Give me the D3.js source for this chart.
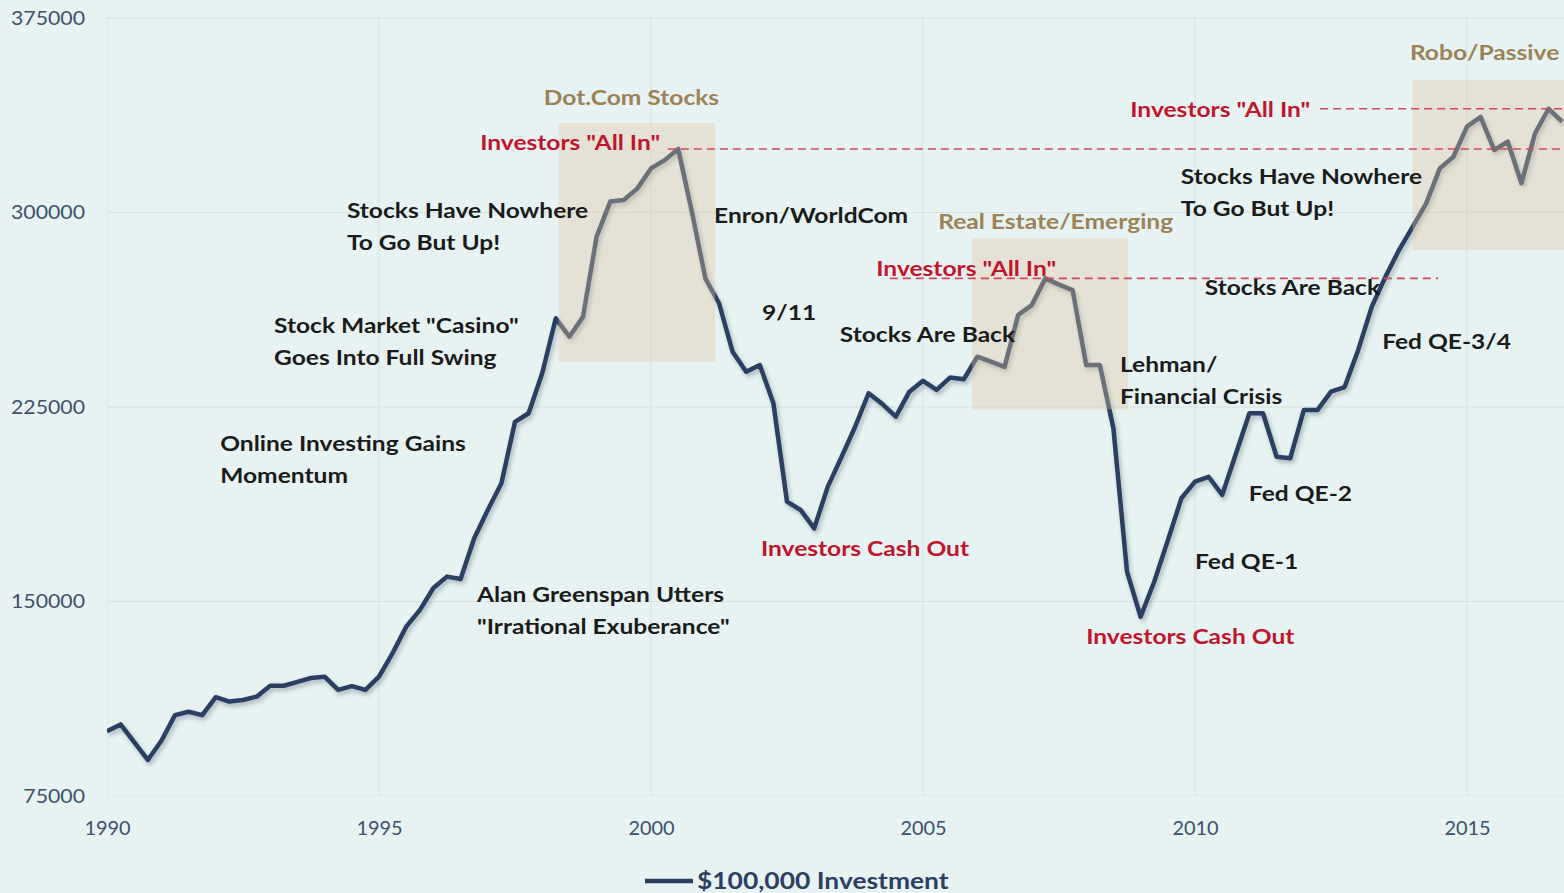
<!DOCTYPE html>
<html>
<head>
<meta charset="utf-8">
<script src="https://cdn.jsdelivr.net/npm/d3@7/dist/d3.min.js"></script>
<style>
  html, body { margin: 0; padding: 0; background: #e6f3f2; }
  svg { display: block; }
  text { font-family: Lato, "Open Sans", sans-serif; }
</style>
</head>
<body>
<svg id="chart" width="1564" height="893"></svg>
<script>
// Quarterly value of a $100,000 investment, 1990 Q1 onward
const startYear = 1990;
const investmentValues = [
  100000, 102600, 95800, 88900, 96300, 106200, 107500, 106200,
  113100, 111400, 112000, 113300, 117500, 117500, 119000, 120500,
  121000, 115900, 117400, 115900, 121000, 130100, 140300, 146700,
  155200, 159600, 158700, 174400, 185300, 195600, 219300, 222600,
  238000, 259200, 252100, 259800, 290700, 304200, 304800, 309300,
  317000, 320200, 324500, 300400, 274600, 265000, 246300, 238600,
  241200, 226400, 188500, 185300, 178200, 194300, 205600, 217300,
  230300, 226200, 221300, 230900, 235100, 231600, 236400, 235700,
  244400, 242500, 240500, 260500, 264300, 274600, 272200, 270100,
  241200, 241200, 216800, 161500, 144100, 157600, 173500, 189800,
  196200, 198100, 191100, 206900, 222600, 222600, 205800, 205200,
  223800, 223800, 230900, 232700, 247000, 263700, 275200, 285500,
  294500, 303500, 317000, 321500, 333100, 336900, 324100, 327300,
  311300, 330500, 340000, 335000
];
const seriesName = "$100,000 Investment";

const yTicks = [75000, 150000, 225000, 300000, 375000];
const xTicks = [1990, 1995, 2000, 2005, 2010, 2015];

// Shaded market-mania periods
const manias = [
  { from: 1998.3, to: 2001.18, low: 242400, high: 334500, title: "Dot.Com Stocks", tx: 1998.03, ty: 344200 },
  { from: 2005.9, to: 2008.77, low: 224100, high: 290000, title: "Real Estate/Emerging", tx: 2005.28, ty: 296300 },
  { from: 2014.0, to: 2017.5, low: 285500, high: 351100, title: "Robo/Passive", tx: 2013.95, ty: 361500 }
];

// "All In" peak levels: dashed line spans and label anchors
const allInLevels = [
  { value: 324500, from: 2000.31, to: 2017.5, tx: 1996.86, ty: 326800 },
  { value: 274600, from: 2004.39, to: 2014.47, tx: 2004.14, ty: 278200 },
  { value: 340000, from: 2012.3, to: 2017.5, tx: 2008.81, ty: 339500 }
];

// Event annotations: anchor year/value of the first line's centre
const events = [
  { lines: ["Stocks Have Nowhere", "To Go But Up!"], year: 1994.41, value: 300600 },
  { lines: ["Stock Market \"Casino\"", "Goes Into Full Swing"], year: 1993.07, value: 256200 },
  { lines: ["Online Investing Gains", "Momentum"], year: 1992.08, value: 210700 },
  { lines: ["Alan Greenspan Utters", "\"Irrational Exuberance\""], year: 1996.80, value: 152500 },
  { lines: ["Enron/WorldCom"], year: 2001.16, value: 298700 },
  { lines: ["9/11"], year: 2002.04, value: 261300 },
  { lines: ["Stocks Are Back"], year: 2003.47, value: 252800 },
  { lines: ["Lehman/", "Financial Crisis"], year: 2008.62, value: 241200 },
  { lines: ["Fed QE-1"], year: 2010.0, value: 165200 },
  { lines: ["Fed QE-2"], year: 2010.99, value: 191500 },
  { lines: ["Stocks Are Back"], year: 2010.18, value: 270900 },
  { lines: ["Fed QE-3/4"], year: 2013.44, value: 250100 },
  { lines: ["Stocks Have Nowhere", "To Go But Up!"], year: 2009.74, value: 313700 }
];
const cashOuts = [
  { year: 2002.02, value: 170200 },
  { year: 2008.0, value: 136300 }
];

const svg = d3.select("#chart");
const W = 1564, H = 893;
const plot = { left: 107, right: 1564, top: 18, bottom: 796 };
const WIDE = 1.17;   // horizontal stretch of the bold annotation face

const x = d3.scaleLinear().domain([1990, 2015]).range([107, 1467]);
const y = d3.scaleLinear().domain([75000, 375000]).range([plot.bottom, plot.top]);

const data = investmentValues.map((v, i) => ({ t: startYear + i / 4, v }));

// Place a text at (px, py) and widen its glyphs around that anchor
function placeWide(sel, px, py, k) {
  sel.attr("x", 0).attr("y", 0)
    .attr("transform", (d, i, n) => `translate(${px(d, i, n)},${py(d, i, n)}) scale(${k},1)`);
}

const defs = svg.append("defs");
defs.append("clipPath").attr("id", "plotClip")
  .append("rect")
  .attr("x", plot.left).attr("y", 0)
  .attr("width", plot.right - plot.left).attr("height", plot.bottom);
const shadow = defs.append("filter").attr("id", "lineShadow")
  .attr("x", "-5%").attr("y", "-5%").attr("width", "110%").attr("height", "110%");
shadow.append("feDropShadow")
  .attr("dx", 2).attr("dy", 3).attr("stdDeviation", 2)
  .attr("flood-color", "#3a4a5a").attr("flood-opacity", 0.35);

svg.append("rect").attr("width", W).attr("height", H).attr("fill", "#e6f3f2");

// Gridlines
const grid = svg.append("g").attr("clip-path", "url(#plotClip)");
grid.selectAll("line.h").data(yTicks).join("line")
  .attr("x1", plot.left).attr("x2", plot.right)
  .attr("y1", d => y(d)).attr("y2", d => y(d))
  .attr("stroke", "#d6e2e1").attr("stroke-width", 1);
grid.selectAll("line.v").data(xTicks).join("line")
  .attr("x1", d => x(d)).attr("x2", d => x(d))
  .attr("y1", plot.top).attr("y2", plot.bottom)
  .attr("stroke", "#d6e2e1").attr("stroke-width", 1);

// Axes (labels only)
const yAxis = d3.axisLeft(y).tickValues(yTicks).tickSize(0).tickPadding(0).tickFormat(d3.format("d"));
svg.append("g").attr("transform", `translate(85,0)`).call(yAxis)
  .call(g => g.select(".domain").remove())
  .selectAll("text")
  .attr("font-size", 19).attr("fill", "#3d516b")
  .attr("font-family", "Lato, sans-serif")
  .attr("transform", "scale(1.12,1)");

const xAxis = d3.axisBottom(x).tickValues(xTicks).tickSize(0).tickPadding(0).tickFormat(d3.format("d"));
svg.append("g").attr("transform", `translate(0,821)`).call(xAxis)
  .call(g => g.select(".domain").remove())
  .selectAll("text")
  .attr("font-size", 19).attr("fill", "#3d516b")
  .attr("font-family", "Lato, sans-serif")
  .attr("transform", "scale(1.05,1)");

// Series line
const line = d3.line().x(d => x(d.t)).y(d => y(d.v));
svg.append("g").attr("clip-path", "url(#plotClip)")
  .append("path")
  .datum(data)
  .attr("d", line)
  .attr("fill", "none")
  .attr("stroke", "#2c3f62")
  .attr("stroke-width", 4.5)
  .attr("stroke-linejoin", "round")
  .attr("filter", "url(#lineShadow)");

// Mania shading over the line
const shade = svg.append("g").attr("clip-path", "url(#plotClip)");
shade.selectAll("rect").data(manias).join("rect")
  .attr("x", d => x(d.from))
  .attr("y", d => y(d.high))
  .attr("width", d => x(d.to) - x(d.from))
  .attr("height", d => y(d.low) - y(d.high))
  .attr("fill", "rgb(227,196,160)")
  .attr("fill-opacity", 0.36);

// Dashed "All In" levels
shade.selectAll("line.allin").data(allInLevels).join("line")
  .attr("x1", d => x(d.from)).attr("x2", d => x(d.to))
  .attr("y1", d => y(d.value)).attr("y2", d => y(d.value))
  .attr("stroke", "#d2485e").attr("stroke-width", 1.6)
  .attr("stroke-dasharray", "8,5");

// Mania titles
svg.append("g").selectAll("text").data(manias).join("text")
  .attr("dy", "0.35em")
  .attr("font-size", 21).attr("font-weight", 700)
  .attr("fill", "#9c8256")
  .text(d => d.title)
  .call(placeWide, d => x(d.tx), d => y(d.ty), WIDE);

// "All In" labels
svg.append("g").selectAll("text").data(allInLevels).join("text")
  .attr("dy", "0.35em")
  .attr("font-size", 21).attr("font-weight", 700)
  .attr("fill", "#c0152d")
  .text("Investors \"All In\"")
  .call(placeWide, d => x(d.tx), d => y(d.ty), WIDE);

// Cash-out labels
svg.append("g").selectAll("text").data(cashOuts).join("text")
  .attr("dy", "0.35em")
  .attr("font-size", 21).attr("font-weight", 700)
  .attr("fill", "#c0152d")
  .text("Investors Cash Out")
  .call(placeWide, d => x(d.year), d => y(d.value), WIDE);

// Event annotations
const ev = svg.append("g").selectAll("text").data(events).join("text")
  .attr("font-size", 21).attr("font-weight", 700)
  .attr("fill", "#1b1b1b")
  .call(placeWide, d => x(d.year), d => y(d.value), WIDE);
ev.selectAll("tspan").data(d => d.lines).join("tspan")
  .attr("x", 0)
  .attr("dy", (d, i) => i === 0 ? "0.35em" : "32px")
  .text(d => d);

// Legend
const legend = svg.append("g");
legend.append("line")
  .attr("x1", 645).attr("x2", 693).attr("y1", 881).attr("y2", 881)
  .attr("stroke", "#2c3f62").attr("stroke-width", 4.5);
legend.append("text")
  .attr("dy", "0.35em")
  .attr("font-size", 22).attr("font-weight", 700)
  .attr("fill", "#2c3f62")
  .text(seriesName)
  .call(placeWide, () => 697, () => 881, 1.2);
</script>
</body>
</html>
